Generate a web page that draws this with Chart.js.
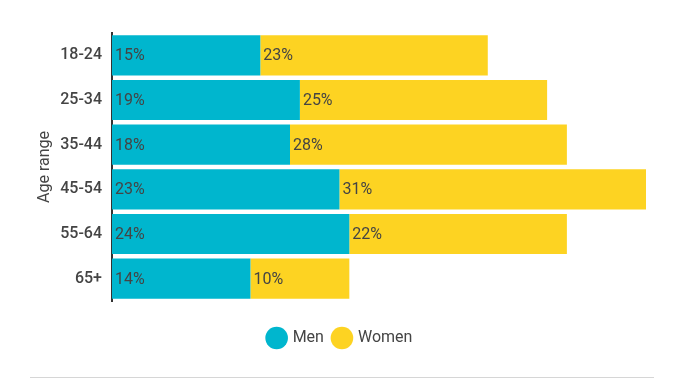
<!DOCTYPE html>
<html>
<head>
<meta charset="utf-8">
<script src="https://cdn.jsdelivr.net/npm/chart.js@4.4.1/dist/chart.umd.min.js"></script>
<style>
  html, body { margin: 0; padding: 0; background: #fff; }
  #wrap { position: relative; width: 685px; height: 379px; }
  #footer { position: absolute; left: 30px; width: 624px; top: 377px; height: 1px; background: #d6d6d6; }
</style>
</head>
<body>
<div id="wrap">
  <canvas id="c" width="685" height="379"></canvas>
  <div id="footer"></div>
</div>
<script>
const categories = ["18-24", "25-34", "35-44", "45-54", "55-64", "65+"];
const men = [15, 19, 18, 23, 24, 14];
const women = [23, 25, 28, 31, 22, 10];
const seriesNames = ["Men", "Women"];
const axisTitle = "Age range";

const labelPlugin = {
  id: 'segLabels',
  afterDatasetsDraw(chart) {
    const ctx = chart.ctx;
    ctx.save();
    ctx.font = '400 16px Roboto';
    ctx.fillStyle = '#444444';
    ctx.textBaseline = 'middle';
    ctx.textAlign = 'left';
    chart.data.datasets.forEach((ds, di) => {
      const meta = chart.getDatasetMeta(di);
      meta.data.forEach((el, i) => {
        const start = Math.min(el.base, el.x);
        ctx.fillText(ds.data[i] + '%', start + 3, el.y + 1);
      });
    });
    ctx.restore();
  }
};

new Chart(document.getElementById('c'), {
  type: 'bar',
  data: {
    labels: categories,
    datasets: [
      { label: seriesNames[0], data: men, backgroundColor: '#00B6CE', borderWidth: 0 },
      { label: seriesNames[1], data: women, backgroundColor: '#FDD322', borderWidth: 0 }
    ]
  },
  options: {
    indexAxis: 'y',
    responsive: false,
    animation: false,
    barPercentage: 0.9,
    categoryPercentage: 1,
    layout: { padding: { top: 33, right: 39, left: 35, bottom: 23 } },
    plugins: {
      legend: {
        position: 'bottom',
        title: {
          display: true,
          text: ' ',
          padding: { top: 0, bottom: 7 },
          font: { family: 'Roboto', size: 12, lineHeight: 1 }
        },
        labels: {
          usePointStyle: true,
          pointStyle: 'circle',
          boxWidth: 16,
          boxHeight: 16,
          padding: 10,
          color: '#444444',
          font: { family: 'Roboto', size: 16, weight: '400' }
        }
      },
      tooltip: { enabled: false }
    },
    scales: {
      x: {
        stacked: true,
        display: false,
        min: 0,
        max: 54
      },
      y: {
        stacked: true,
        grid: { display: false, drawTicks: false },
        border: { display: true, color: '#333333', width: 2 },
        ticks: {
          color: '#444444',
          padding: 10,
          font: { family: 'Roboto', size: 16, weight: '500' }
        },
        title: {
          display: true,
          text: axisTitle,
          color: '#444444',
          padding: 0,
          font: { family: 'Roboto', size: 16, weight: '400' }
        },
        afterFit(scale) { scale.width = 77; }
      }
    }
  },
  plugins: [labelPlugin]
});
</script>
</body>
</html>
